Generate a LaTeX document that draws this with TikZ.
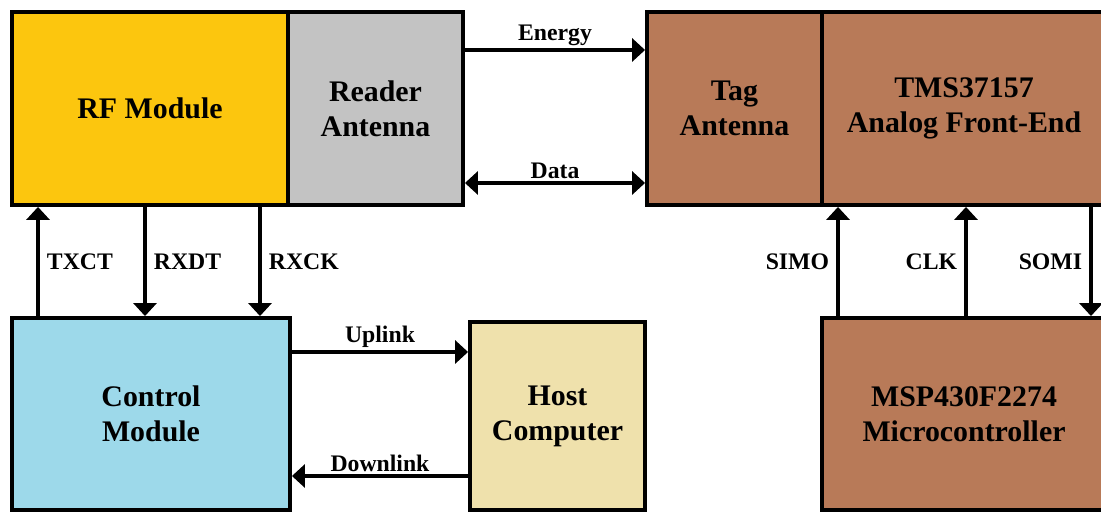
\documentclass[tikz,border=0pt]{standalone}
\usepackage{fontspec}
\setmainfont{Liberation Serif}
\usetikzlibrary{arrows.meta}

\definecolor{rfyellow}{RGB}{252,198,14}
\definecolor{antgray}{RGB}{195,195,195}
\definecolor{tagbrown}{RGB}{184,122,88}
\definecolor{ctrlblue}{RGB}{157,217,234}
\definecolor{hostbeige}{RGB}{239,225,172}

\begin{document}
\begin{tikzpicture}[
    >={Triangle[width=0.46cm,length=0.26cm]},
    block/.style={rectangle, draw, line width=2.2pt, align=center, inner sep=0pt,
        font=\fontsize{17}{20}\selectfont\bfseries},
    sig/.style={line width=2.2pt},
    lbl/.style={font=\fontsize{13.5}{16}\selectfont\bfseries, inner sep=4pt},
    toplbl/.style={lbl, midway, above, yshift=-2.5pt}]
    \path[use as bounding box] (0,0) rectangle (22.02,10.28);

    % reader side
    \node[block, fill=rfyellow, minimum width=5.52cm, minimum height=3.86cm] (rf) at (3.00,8.11) {RF Module};
    \node[block, fill=antgray, minimum width=3.50cm, minimum height=3.86cm] (rdant) at (7.51,8.11) {Reader\\Antenna};
    \node[block, fill=ctrlblue, minimum width=5.56cm, minimum height=3.84cm] (ctrl) at (3.02,2.00) {Control\\Module};
    \node[block, fill=hostbeige, minimum width=3.50cm, minimum height=3.76cm] (host) at (11.15,1.96) {Host\\Computer};

    % tag side
    \node[block, fill=tagbrown, minimum width=3.50cm, minimum height=3.86cm] (tagant) at (14.69,8.11) {Tag\\Antenna};
    \node[block, fill=tagbrown, minimum width=5.68cm, minimum height=3.86cm] (afe) at (19.28,8.11) {TMS37157\\Analog Front-End};
    \node[block, fill=tagbrown, minimum width=5.68cm, minimum height=3.84cm] (mcu) at (19.28,2.00) {MSP430F2274\\Microcontroller};

    % air interface
    \draw[sig,->] ([yshift=1.17cm]rdant.east) -- ([yshift=1.17cm]tagant.west) node[toplbl] {Energy};
    \draw[sig,<->] ([yshift=-1.49cm]rdant.east) -- ([yshift=-1.49cm]tagant.west) node[toplbl] {Data};

    % RF module <-> control module
    \draw[sig,->] ([xshift=-2.26cm]ctrl.north) -- ([xshift=-2.26cm]ctrl.north |- rf.south) node[lbl, midway, right] {TXCT};
    \draw[sig,<-] ([xshift=-0.12cm]ctrl.north) -- ([xshift=-0.12cm]ctrl.north |- rf.south) node[lbl, midway, right] {RXDT};
    \draw[sig,<-] ([xshift=2.18cm]ctrl.north) -- ([xshift=2.18cm]ctrl.north |- rf.south) node[lbl, midway, right] {RXCK};

    % control module <-> host
    \draw[sig,->] ([yshift=1.24cm]ctrl.east) -- ([yshift=1.24cm]ctrl.east -| host.west) node[toplbl] {Uplink};
    \draw[sig,<-] ([yshift=-1.24cm]ctrl.east) -- ([yshift=-1.24cm]ctrl.east -| host.west) node[toplbl] {Downlink};

    % SPI between microcontroller and front-end
    \draw[sig,->] ([xshift=-2.52cm]mcu.north) -- ([xshift=-2.52cm]afe.south) node[lbl, midway, left] {SIMO};
    \draw[sig,->] ([xshift=0.04cm]mcu.north) -- ([xshift=0.04cm]afe.south) node[lbl, midway, left] {CLK};
    \draw[sig,<-] ([xshift=2.54cm]mcu.north) -- ([xshift=2.54cm]afe.south) node[lbl, midway, left] {SOMI};
\end{tikzpicture}
\end{document}
